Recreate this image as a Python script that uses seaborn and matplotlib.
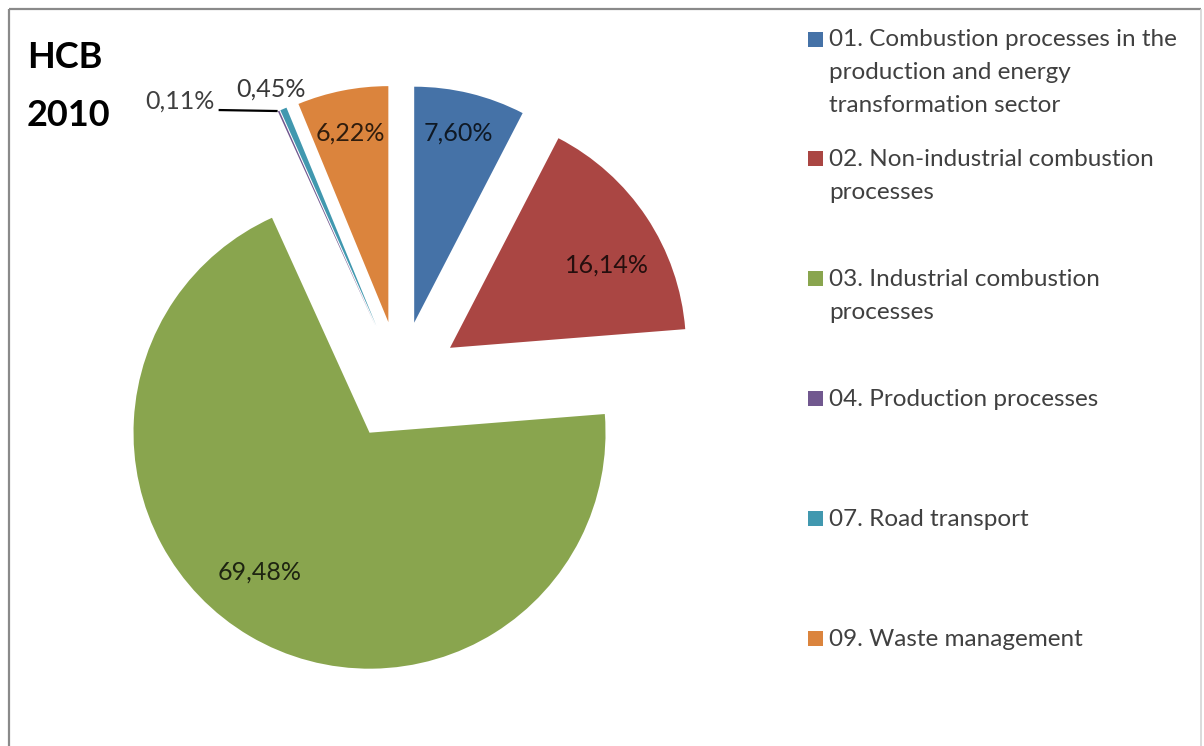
import numpy as np
import matplotlib
matplotlib.use("Agg")
import matplotlib.pyplot as plt
import seaborn as sns

# ---------------- data ----------------
categories = [
    "01. Combustion processes in the\nproduction and energy\ntransformation sector",
    "02. Non-industrial combustion\nprocesses",
    "03. Industrial combustion\nprocesses",
    "04. Production processes",
    "07. Road transport",
    "09. Waste management",
]
shares = [7.60, 16.14, 69.48, 0.11, 0.45, 6.22]
value_labels = ["7,60%", "16,14%", "69,48%", "0,11%", "0,45%", "6,22%"]
title_lines = ["HCB", "2010"]
slice_colors = ["#4572A7", "#AA4643", "#89A54E", "#71588F", "#4198AF", "#DB843D"]

# ---------------- style ----------------
sns.set_theme(style="white")
plt.rcParams["font.family"] = ["Lato", "DejaVu Sans"]
palette = sns.color_palette(slice_colors)

W, H = 1204, 746
fig = plt.figure(figsize=(W / 100, H / 100), dpi=100)
ax = fig.add_axes([0, 0, 1, 1])

def py(y):  # pixel row (from top) -> data y
    return H - y

R = 236
center = (400, py(381))
explode = [60] * len(shares)

wedges, _ = ax.pie(
    shares, colors=palette, startangle=90, counterclock=False,
    radius=R, center=center, explode=explode,
    wedgeprops=dict(linewidth=0), frame=True,
)
ax.set_xlim(0, W)
ax.set_ylim(0, H)
ax.set_aspect("equal")
ax.axis("off")

# ---------------- value labels ----------------
label_fs = 18
label_dist = [0.832, 0.757, 0.744, None, 1.106, 0.824]
label_dtheta = [0.8, -5.1, -8.1, 0.0, 0.6, 0.2]
for i, w in enumerate(wedges):
    cx, cy = w.center
    th = np.deg2rad((w.theta1 + w.theta2) / 2)
    if label_dist[i] is None:
        # leader-line label for the tiny slice
        tipx = cx + R * np.cos(th)
        tipy = cy + R * np.sin(th)
        ax.plot([tipx - 1, tipx - 60], [tipy, tipy + 1], color="black", lw=1.6,
                solid_capstyle="butt")
        ax.text(tipx - 64, tipy + 2, value_labels[i], ha="right", va="baseline",
                fontsize=label_fs, color="black", alpha=0.75)
        continue
    t = th + np.deg2rad(label_dtheta[i])
    x = cx + R * label_dist[i] * np.cos(t)
    y = cy + R * label_dist[i] * np.sin(t)
    ax.text(x, y, value_labels[i], ha="center", va="center_baseline",
            fontsize=label_fs, color="black", alpha=0.78)

# ---------------- title ----------------
title_baselines = [68, 125.5]
for txt, yb in zip(title_lines, title_baselines):
    ax.text(27, py(yb), txt, ha="left", va="baseline", fontsize=26,
            fontweight="bold", color="black")

# ---------------- legend ----------------
leg_x_box = 808
leg_box = 15
leg_x_text = 829
leg_first = 46.5
leg_step = 119.9
line_step = 32.5
for i, (lab, col) in enumerate(zip(categories, palette)):
    yb = leg_first + i * leg_step
    ax.add_patch(plt.Rectangle((leg_x_box, py(yb)), leg_box, leg_box,
                               facecolor=col, edgecolor="none"))
    for j, line in enumerate(lab.split("\n")):
        ax.text(leg_x_text, py(yb + j * line_step), line, ha="left",
                va="baseline", fontsize=17.5, color="#404040")

# ---------------- frame ----------------
ax.plot([8.5, 8.5], [py(8.5), -5], color="#8a8a8a", lw=1.6, solid_capstyle="butt")
ax.plot([8.5, 1201], [py(8.5), py(8.5)], color="#8a8a8a", lw=1.6, solid_capstyle="butt")
ax.plot([1201, 1201], [py(8.5), -5], color="#d4d4d4", lw=1.2, solid_capstyle="butt")

fig.savefig("out.png", dpi=100)
